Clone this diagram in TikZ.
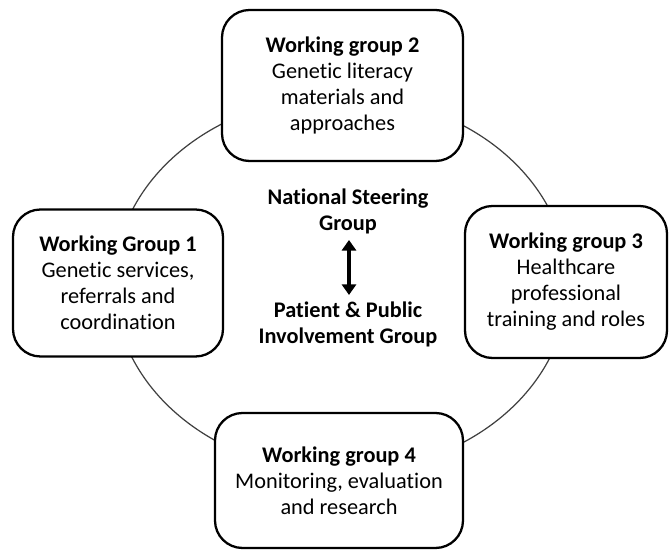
\documentclass[tikz,border=0pt]{standalone}
\usepackage{fontspec}
\setmainfont[RawFeature={-liga;-clig;-calt;-dlig}]{Carlito}
\usetikzlibrary{positioning,arrows.meta}
\tikzset{
every path/.style={line width=0.6pt}
, every node/.style={font=\fontsize{12.7}{14.8}\selectfont}
, groupnode/.style={draw, line width=1.3pt, rounded corners=0.55cm, fill=white, align=center, inner sep=0}
, ringline/.style={draw=black!75, line width=0.7pt}
, centretext/.style={align=center, font=\fontsize{12.7}{14.8}\selectfont\bfseries}
, linkarrow/.style={line width=1.8pt, {Triangle[length=6pt,width=8pt]}-{Triangle[length=6pt,width=8pt]}}}

\begin{document}
\begin{tikzpicture}
\useasboundingbox (0,0) rectangle (13.38,11.02);
\draw [ringline] (6.82,5.34) ellipse [x radius=4.54, y radius=3.76];
\node[groupnode, minimum width=4.2cm, minimum height=2.94cm] at (2.36,5.36) (wg1)
  {\textbf{Working Group 1}\\Genetic services,\\referrals and\\coordination};
\node[groupnode, minimum width=4.82cm, minimum height=3.02cm] at (6.85,9.31) (wg2)
  {\textbf{Working group 2}\\Genetic literacy\\materials and\\approaches};
\node[groupnode, minimum width=4.04cm, minimum height=3.04cm] at (11.32,5.38) (wg3)
  {\textbf{Working group 3}\\Healthcare\\professional\\training and roles};
\node[groupnode, minimum width=4.96cm, minimum height=2.7cm] at (6.78,1.41) (wg4)
  {\textbf{Working group 4}\\Monitoring, evaluation\\and research};
\node[centretext] at (6.96,6.8) (nsg) {National Steering\\Group};
\node[centretext, below=1.1 of nsg] (ppig) {Patient \& Public\\Involvement Group};
\draw [linkarrow] ([xshift=0.02cm]nsg.south) -- ([xshift=0.02cm]ppig.north);
\end{tikzpicture}
\end{document}
